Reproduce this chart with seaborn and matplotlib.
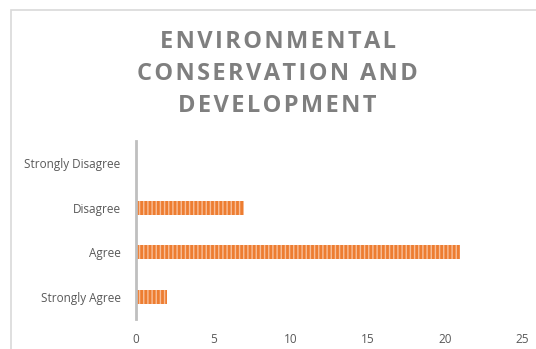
import matplotlib
matplotlib.use("Agg")
import matplotlib.pyplot as plt
import seaborn as sns
import pandas as pd
from matplotlib.patches import Rectangle

categories = ["Strongly Disagree", "Disagree", "Agree", "Strongly Agree"]
values = [0, 7, 21, 2]
xticks = [0, 5, 10, 15, 20, 25]
title_lines = ["ENVIRONMENTAL", "CONSERVATION AND", "DEVELOPMENT"]

sns.set_theme(style="white")
plt.rcParams['font.family'] = ['Open Sans', 'DejaVu Sans']
plt.rcParams['hatch.linewidth'] = 1.0

df = pd.DataFrame({"category": categories, "value": values})

fig = plt.figure(figsize=(5.36, 3.49), dpi=100)
ax = fig.add_axes([136/536, 1 - 319/349, (522 - 136)/536, (319 - 141)/349])

sns.barplot(data=df, x="value", y="category", order=categories, orient="h",
            color="#ED7D31", width=0.31, ax=ax, saturation=1)
for p in ax.patches:
    p.set_hatch("||||")
    p.set_edgecolor("#F8BE98")
    p.set_linewidth(0)

ax.set_xlim(0, 25)
ax.set_xticks(xticks)
ax.set_xlabel("")
ax.set_ylabel("")
for s in ["top", "right", "bottom"]:
    ax.spines[s].set_visible(False)
ax.spines["left"].set_color("#BFBFBF")
ax.spines["left"].set_linewidth(2)
ax.tick_params(axis="both", length=0, labelsize=8.5, labelcolor="#595959")
ax.tick_params(axis="x", pad=10)
ax.tick_params(axis="y", pad=11)

spaced = "\n".join("\u200a".join(line) for line in title_lines)
fig.text(0.518, 1 - 74/349, spaced, ha="center", va="center", fontsize=17, fontweight="bold",
         color="#7F7F7F", linespacing=1.45)

fig.patches.append(Rectangle((11/536, -0.1), 2.0, 1 - 10/349 + 0.1, transform=fig.transFigure,
                             fill=False, edgecolor="#D9D9D9", linewidth=1.2))

fig.savefig("out.png", dpi=100)
